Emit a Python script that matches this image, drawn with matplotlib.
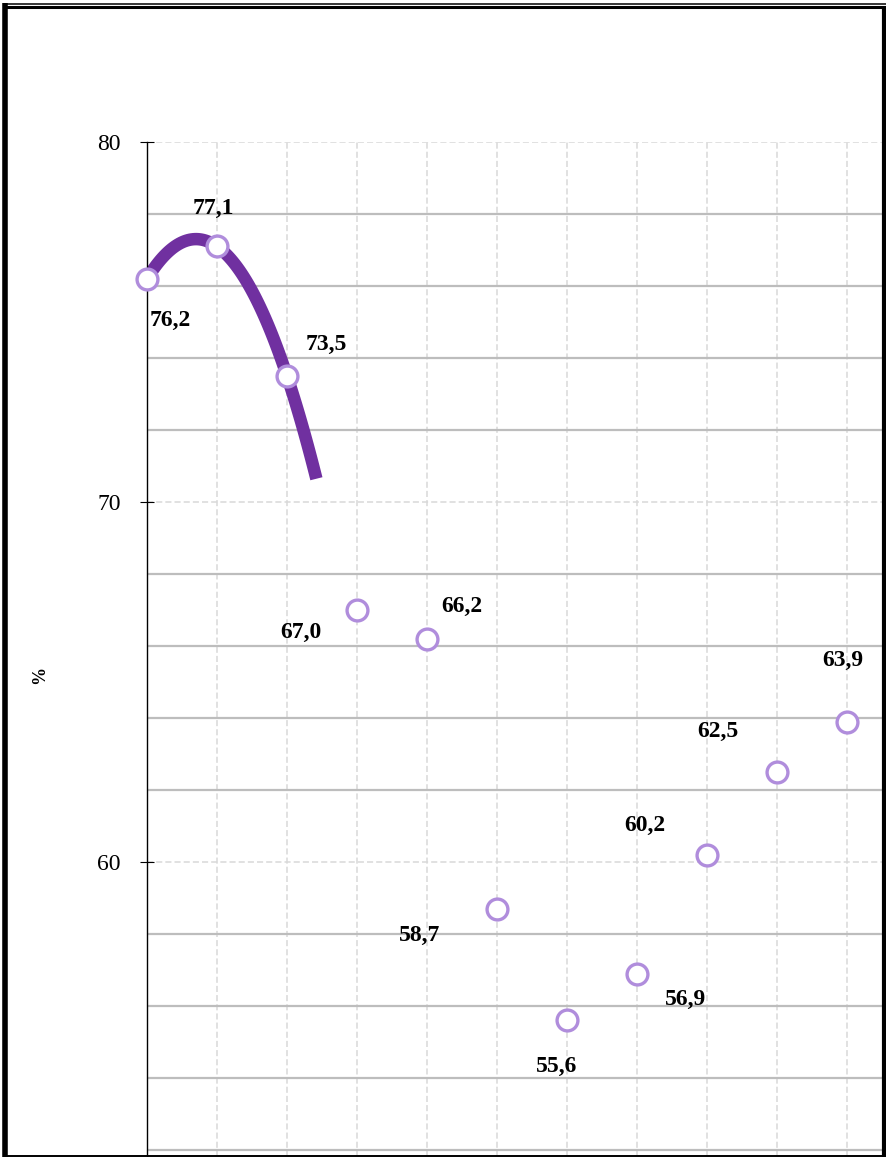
import matplotlib.pyplot as plt
import numpy as np
from matplotlib.lines import Line2D

# data
x_idx = [0, 1, 2, 3, 4, 5, 6, 7, 8, 9, 10]
values = [76.2, 77.1, 73.5, 67.0, 66.2, 58.7, 55.6, 56.9, 60.2, 62.5, 63.9]
labels = ['76,2', '77,1', '73,5', '67,0', '66,2', '58,7', '55,6', '56,9', '60,2', '62,5', '63,9']
y_ticks = [60, 70, 80]

# label offsets in pixels (dx, dy up)
offsets = [(23, -42), (-4, 38), (39, 32), (-56, -22), (35, 32), (-77, -27),
           (-10, -46), (49, -26), (-62, 29), (-59, 41), (-4, 61)]

W, H = 887, 1157
fig = plt.figure(figsize=(W / 100, H / 100), dpi=100)
plt.rcParams['font.family'] = ['Liberation Serif', 'DejaVu Serif']

ax = fig.add_axes([147 / W, 0, (W - 147) / W, (H - 142) / H])
ax.set_xlim(0, (W - 147) / 70)
ax.set_ylim(80 - (H - 142) / 36, 80)

# grid
for xv in x_idx:
    ax.axvline(xv, color='#d9d9d9', lw=1.1, ls=(0, (4, 2)), zorder=0)
for yv in np.arange(52, 80, 2):
    if yv % 10 == 0:
        continue
    ax.axhline(yv, color='#bdbdbd', lw=1.6, zorder=0)
for yv in y_ticks:
    ax.axhline(yv, color='#d9d9d9', lw=1.1, ls=(0, (4, 2)), zorder=0)

# polynomial trendline on first three points
coef = np.polyfit(x_idx[:3], values[:3], 2)
xt = np.linspace(0, 2.42, 100)
ax.plot(xt, np.polyval(coef, xt), color='#7030a0', lw=9, solid_capstyle='butt', zorder=2)

ax.plot(x_idx, values, ls='none', marker='o', markersize=15, markerfacecolor='white',
        markeredgecolor='#b08ddc', markeredgewidth=2.4, zorder=3, clip_on=False)

for xv, yv, lab, (dx, dy) in zip(x_idx, values, labels, offsets):
    ax.annotate(lab, (xv, yv), xytext=(dx, dy), textcoords='offset pixels',
                ha='center', va='center', fontsize=17, fontweight='bold', zorder=4)

ax.set_yticks(y_ticks)
ax.set_yticklabels([str(v) for v in y_ticks])
ax.tick_params(axis='y', direction='inout', length=10, width=0.8, pad=14, labelsize=17)
ax.set_xticks([])
for s in ['top', 'right', 'bottom']:
    ax.spines[s].set_visible(False)
ax.spines['left'].set_linewidth(1.0)

fig.text(40 / W, 1 - 675 / H, '%', rotation=90, ha='center', va='center',
         fontsize=13, fontweight='bold')

# outer frame
def fline(x0, y0, x1, y1, lw):
    fig.add_artist(Line2D([x0 / W, x1 / W], [1 - y0 / H, 1 - y1 / H],
                          transform=fig.transFigure, color='black', lw=lw,
                          solid_capstyle='butt'))

fline(3, 3.5, 887, 3.5, 1.1)
fline(3, 6.5, 886, 6.5, 2.2)
fline(5.5, 3, 5.5, 1157, 4.0)
fline(884.5, 6, 884.5, 1157, 3.0)
fline(3, 1155.5, 886, 1155.5, 1.4)

fig.savefig('out.png', dpi=100)
